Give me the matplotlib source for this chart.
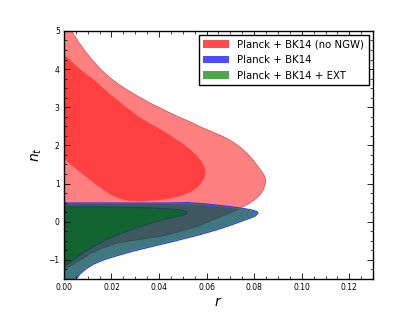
import numpy as np
import matplotlib
matplotlib.use("Agg")
import matplotlib.pyplot as plt
from matplotlib.patches import Patch
from matplotlib.ticker import AutoMinorLocator

# contour boundaries (r, n_t)
red_out_r = [0.0, 0.0032, 0.0060, 0.0090, 0.0123, 0.0158, 0.0194, 0.0230, 0.0264, 0.0310,
             0.0362, 0.0420, 0.0480, 0.0530, 0.0572, 0.0640, 0.0680, 0.0713, 0.0745, 0.0770,
             0.0795, 0.0815, 0.0832, 0.0843, 0.0848, 0.0846, 0.0838, 0.0826, 0.0810, 0.0785,
             0.0755, 0.0727, 0.0680, 0.0620, 0.0558, 0.0480, 0.0404, 0.0300, 0.0222, 0.0150,
             0.0110, 0.0081, 0.0050, 0.0025, 0.0]
red_out_nt = [5.0, 5.0, 4.72, 4.46, 4.21, 3.97, 3.77, 3.60, 3.46, 3.29,
              3.11, 2.93, 2.75, 2.62, 2.49, 2.31, 2.20, 2.08, 1.93, 1.79,
              1.62, 1.45, 1.31, 1.20, 1.10, 0.97, 0.83, 0.72, 0.62, 0.50,
              0.40, 0.31, 0.18, 0.03, -0.13, -0.27, -0.39, -0.48, -0.56, -0.72,
              -0.84, -0.96, -1.07, -1.17, -1.25]

red_in_r = [0.0, 0.0030, 0.0067, 0.0095, 0.0123, 0.0160, 0.0194, 0.0230, 0.0264, 0.0320,
            0.0360, 0.0404, 0.0440, 0.0474, 0.0505, 0.0530, 0.0555, 0.0572, 0.0585, 0.0593,
            0.0594, 0.0588, 0.0575, 0.0555, 0.0530, 0.0490, 0.0440, 0.0404, 0.0330, 0.0278,
            0.0240, 0.0200, 0.0165, 0.0130, 0.0095, 0.0060, 0.0030, 0.0]
red_in_nt = [4.38, 4.20, 3.99, 3.85, 3.72, 3.52, 3.33, 3.15, 2.98, 2.72,
             2.57, 2.42, 2.28, 2.14, 2.01, 1.88, 1.74, 1.62, 1.50, 1.38,
             1.26, 1.14, 1.00, 0.88, 0.78, 0.68, 0.61, 0.58, 0.54, 0.55,
             0.60, 0.71, 0.85, 1.01, 1.18, 1.35, 1.50, 1.67]

blue_out_r = [0.0, 0.0300, 0.0450, 0.0520, 0.0590, 0.0650, 0.0705, 0.0760, 0.0795, 0.0813,
              0.0816, 0.0805, 0.0785, 0.0742, 0.0702, 0.0644, 0.0572, 0.0502, 0.0432, 0.0364,
              0.0292, 0.0224, 0.0172, 0.0125, 0.0092, 0.0068, 0.0050, 0.0035, 0.0]
blue_out_nt = [0.49, 0.49, 0.49, 0.50, 0.47, 0.43, 0.39, 0.34, 0.30, 0.26,
               0.22, 0.15, 0.10, 0.00, -0.09, -0.21, -0.34, -0.45, -0.56, -0.66,
               -0.77, -0.89, -0.99, -1.11, -1.24, -1.37, -1.52, -1.70, -1.70]

green_out_r = [0.0, 0.0300, 0.0500, 0.0580, 0.0642, 0.0700, 0.0755, 0.0790, 0.0808, 0.0811,
               0.0800, 0.0782, 0.0740, 0.0700, 0.0642, 0.0570, 0.0500, 0.0430, 0.0362, 0.0290,
               0.0222, 0.0170, 0.0123, 0.0090, 0.0067, 0.0052, 0.0038, 0.0]
green_out_nt = [0.47, 0.47, 0.47, 0.45, 0.41, 0.37, 0.33, 0.29, 0.25, 0.22,
                0.16, 0.11, 0.02, -0.07, -0.19, -0.32, -0.43, -0.54, -0.64, -0.75,
                -0.87, -0.97, -1.09, -1.22, -1.35, -1.50, -1.70, -1.70]

blue_in_r = [0.0, 0.0200, 0.0362, 0.0420, 0.0474, 0.0502, 0.0518, 0.0514, 0.0492, 0.0452,
             0.0402, 0.0364, 0.0302, 0.0224, 0.0172, 0.0125, 0.0087, 0.0055, 0.0027, 0.0012, 0.0]
blue_in_nt = [0.39, 0.38, 0.36, 0.34, 0.32, 0.29, 0.25, 0.21, 0.16, 0.10,
              0.03, -0.04, -0.17, -0.35, -0.49, -0.65, -0.79, -0.93, -1.06, -1.13, -1.17]

green_in_r = [0.0, 0.0200, 0.0360, 0.0418, 0.0470, 0.0498, 0.0512, 0.0508, 0.0487, 0.0448,
              0.0398, 0.0360, 0.0300, 0.0222, 0.0170, 0.0123, 0.0085, 0.0053, 0.0025, 0.0011, 0.0]
green_in_nt = [0.38, 0.37, 0.35, 0.33, 0.31, 0.28, 0.24, 0.20, 0.15, 0.10,
               0.03, -0.04, -0.17, -0.34, -0.48, -0.64, -0.78, -0.92, -1.05, -1.12, -1.16]

labels = ['Planck + BK14 (no NGW)', 'Planck + BK14', 'Planck + BK14 + EXT']

fig = plt.figure(figsize=(4.15, 3.12), dpi=100)
ax = fig.add_axes([0.154, 0.106, 0.745, 0.795])

ax.fill(red_out_r, red_out_nt, facecolor='#ff8080', edgecolor='#e05050', lw=0.6)
ax.fill(red_in_r, red_in_nt, facecolor='#ff4040', edgecolor='#ff4040', lw=0.5)
ax.fill(blue_out_r, blue_out_nt, facecolor=(0, 0, 1, 0.5), edgecolor='#3030ff', lw=0.8)
ax.fill(blue_in_r, blue_in_nt, facecolor=(0, 0, 1, 0.3), edgecolor='#2020c0', lw=0.8)
ax.fill(green_out_r, green_out_nt, facecolor=(0, 0.44, 0, 0.5), edgecolor=(0.2, 0.6, 0.3, 0.6), lw=0.5)
ax.fill(green_in_r, green_in_nt, facecolor=(0.04, 0.43, 0.12, 0.75), edgecolor=(0.1, 0.35, 0.25, 0.6), lw=0.5)

ax.set_xlim(0, 0.13)
ax.set_ylim(-1.5, 5)
ax.set_xticks(np.arange(0, 0.121, 0.02))
ax.set_yticks(np.arange(-1, 5.1, 1))
ax.xaxis.set_minor_locator(AutoMinorLocator(4))
ax.yaxis.set_minor_locator(AutoMinorLocator(4))
ax.tick_params(which='both', direction='in', top=True, right=True, labelsize=5.5, pad=3)
ax.tick_params(which='major', length=4, width=0.6)
ax.tick_params(which='minor', length=2, width=0.5)
for s in ax.spines.values():
    s.set_linewidth(1.0)

ax.set_xlabel('$r$', fontsize=10, labelpad=2)
ax.set_ylabel('$n_t$', fontsize=10, labelpad=3)

handles = [Patch(facecolor='red', alpha=0.7, edgecolor='none'),
           Patch(facecolor='blue', alpha=0.7, edgecolor='none'),
           Patch(facecolor='green', alpha=0.7, edgecolor='none')]
leg = ax.legend(handles, labels, loc='upper right', fontsize=7.3, fancybox=False,
                framealpha=1, borderaxespad=0.45, handlelength=2.6, handleheight=0.8,
                labelspacing=0.55, borderpad=0.4)
leg.get_frame().set_edgecolor('black')
leg.get_frame().set_linewidth(1.0)

fig.savefig('out.png', dpi=100)
